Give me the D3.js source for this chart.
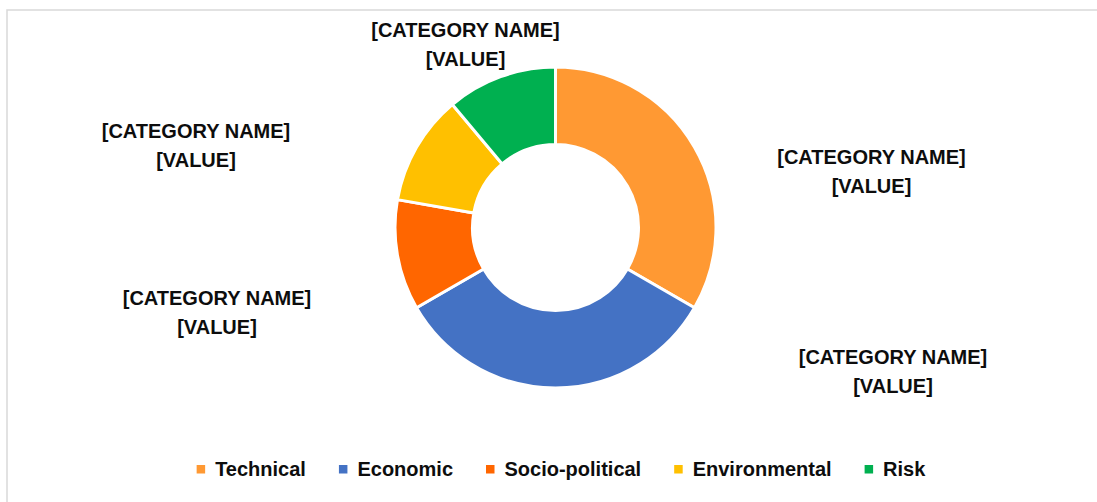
<!DOCTYPE html>
<html>
<head>
<meta charset="utf-8">
<script src="https://cdn.jsdelivr.net/npm/d3@7"></script>
<style>
  html, body { margin: 0; padding: 0; background: #ffffff; }
  svg { display: block; }
</style>
</head>
<body>
<svg id="chart" width="1097" height="502"></svg>
<script>
// Categories and their shares of the ring
const categories = ["Technical", "Economic", "Socio-political", "Environmental", "Risk"];
const values = [3, 3, 1, 1, 1];
const colors = ["#FF9933", "#4472C4", "#FF6600", "#FFC000", "#00B050"];
const labelLines = ["[CATEGORY NAME]", "[VALUE]"];

const W = 1097, H = 502;
const cx = 555.5, cy = 227.5;
const outerR = 160.5, innerR = 83;
const FONT = "'Liberation Sans', Arial, sans-serif";

const svg = d3.select("#chart");

// chart area frame
svg.append("rect")
  .attr("x", 7).attr("y", 10)
  .attr("width", W + 10).attr("height", H + 10)
  .attr("fill", "#ffffff")
  .attr("stroke", "#d9d9d9")
  .attr("stroke-width", 1.5);

const data = categories.map((c, i) => ({ name: c, value: values[i], color: colors[i] }));

const pie = d3.pie().value(d => d.value).sort(null);
const arc = d3.arc().innerRadius(innerR).outerRadius(outerR);
const arcs = pie(data);

const g = svg.append("g").attr("transform", `translate(${cx},${cy})`);

g.selectAll("path.slice")
  .data(arcs)
  .join("path")
  .attr("class", "slice")
  .attr("d", arc)
  .attr("fill", d => d.data.color)
  .attr("stroke", "#ffffff")
  .attr("stroke-width", 3)
  .attr("stroke-linejoin", "miter");

// Data label placement: offset of each label's first baseline from the ring centre
const labelOffsets = {
  "Technical":       [316, -63.5],
  "Economic":        [337.5, 136.5],
  "Socio-political": [-338.5, 77.5],
  "Environmental":   [-359.5, -89.5],
  "Risk":            [-90, -190.5]
};

const labels = g.selectAll("g.label")
  .data(arcs)
  .join("g")
  .attr("class", "label")
  .attr("transform", d => {
    const o = labelOffsets[d.data.name];
    return `translate(${o[0]},${o[1]})`;
  });

labels.each(function () {
  const sel = d3.select(this);
  labelLines.forEach((t, i) => {
    sel.append("text")
      .attr("x", 0)
      .attr("y", i * 28.5)
      .attr("text-anchor", "middle")
      .attr("font-family", FONT)
      .attr("font-weight", "bold")
      .attr("font-size", "20px")
      .attr("fill", "#0d0d0d")
      .text(t);
  });
});

// Legend along the bottom
const legend = svg.append("g").attr("class", "legend");
const markerSize = 8.5, markerGap = 10, itemGap = 33;
const legendY = 476;

const items = legend.selectAll("g.item")
  .data(data)
  .join("g")
  .attr("class", "item");

items.append("rect")
  .attr("width", markerSize)
  .attr("height", markerSize)
  .attr("y", legendY - 11)
  .attr("fill", d => d.color);

items.append("text")
  .attr("x", markerSize + markerGap)
  .attr("y", legendY)
  .attr("font-family", FONT)
  .attr("font-weight", "bold")
  .attr("font-size", "20px")
  .attr("fill", "#0d0d0d")
  .text(d => d.name);

const widths = [];
items.each(function () {
  const w = d3.select(this).select("text").node().getComputedTextLength();
  widths.push(markerSize + markerGap + w);
});
const total = d3.sum(widths) + itemGap * (widths.length - 1);
const startX = 561 - total / 2;
items.attr("transform", (d, i) => {
  const x = startX + d3.sum(widths.slice(0, i)) + itemGap * i;
  return `translate(${x},0)`;
});
</script>
</body>
</html>
